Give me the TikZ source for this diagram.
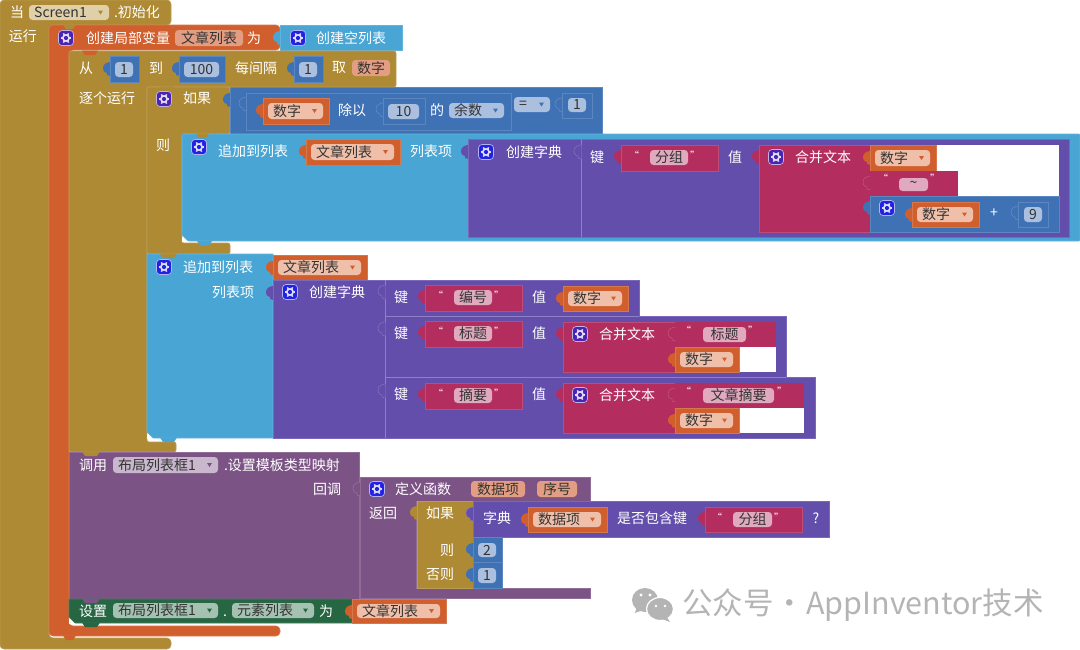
\documentclass[tikz,border=0pt]{standalone}
\usepackage{fontspec}
\setmainfont{Noto Sans CJK SC}
\definecolor{wood}{HTML}{AE8A34}
\definecolor{rust}{HTML}{D05F2D}
\definecolor{sky}{HTML}{49A6D4}
\definecolor{mathblue}{HTML}{3F71B5}
\definecolor{dict}{HTML}{634FAB}
\definecolor{txtred}{HTML}{B32D5E}
\definecolor{mauve}{HTML}{7C5385}
\definecolor{leaf}{HTML}{266643}
\definecolor{woodpill}{HTML}{DFD0A9}
\definecolor{rustpill}{HTML}{EFBFA9}
\definecolor{rustdark}{HTML}{E39D82}
\definecolor{mathpill}{HTML}{ABBFDE}
\definecolor{txtpill}{HTML}{E0A9BE}
\definecolor{mauvepill}{HTML}{C9B7CD}
\definecolor{leafpill}{HTML}{A4C1B1}
\definecolor{wmgray}{HTML}{B4B4B4}
\definecolor{gearblue}{HTML}{2222E2}
\definecolor{gearviolet}{HTML}{4A24B4}
\tikzset{
  blk/.style={draw=#1!85!white, fill=#1, line width=.6pt},
  lab/.style={text=white, inner sep=0pt, font=\fontsize{14}{14}\selectfont},
  fld/.style={text=black!80, inner sep=0pt, font=\fontsize{14}{14}\selectfont},
  quo/.style={text=white, inner sep=0pt, font=\fontsize{10}{10}\selectfont}
}
% puzzle tab sticking out to the left of an edge
\newcommand{\tabl}[3]{\fill[#1] (#2+.6,#3-7) .. controls (#2-3,#3-7) and (#2-7,#3-5) .. (#2-7,#3-1) .. controls (#2-7,#3+3) and (#2-4,#3+4) .. (#2-3,#3+4) -- (#2-3,#3+6) -- (#2+.6,#3+7) -- cycle;}
\newcommand{\sock}[3]{\filldraw[fill=#1, draw=#1!80!white, line width=.5pt] (#2+.6,#3-7) .. controls (#2-3,#3-7) and (#2-7,#3-5) .. (#2-7,#3-1) .. controls (#2-7,#3+3) and (#2-4,#3+4) .. (#2-3,#3+4) -- (#2-3,#3+6) -- (#2+.6,#3+7);}
% notch hanging under a statement
\newcommand{\notch}[4]{\fill[#1] (#2,#4-.5) -- (#2+3,#4+4) -- (#3-3,#4+4) -- (#3,#4-.5) -- cycle;}
% settings button
\newcommand{\gear}[3]{
  \filldraw[fill=#1, draw=white!65!#1, line width=.7pt, rounded corners=3.5pt] (#2-7.5,#3-7.5) rectangle (#2+7.5,#3+7.5);
  \foreach \a in {0,60,...,300} {\draw[white!85!#1, line width=1.5pt] (#2,#3) ++(\a:3) -- ++(\a:2.3);}
  \fill[white!85!#1] (#2,#3) circle (4);
  \fill[#1] (#2,#3) circle (2.1);
}
\newcommand{\pill}[7]{
  \fill[#1, rounded corners=3.5pt] (#3,#4) rectangle (#5,#6);
  \node[fld] (#2) at ({(#3+#5)/2},{(#4+#6)/2}) {#7};
}
\newcommand{\dpill}[8]{
  \fill[#1, rounded corners=3.5pt] (#3,#4) rectangle (#5,#6);
  \node[fld, anchor=west] (#2) at (#3+5,{(#4+#6)/2}) {#7};
  \fill[#8] (#5-11,{(#4+#6)/2-2}) -- (#5-6,{(#4+#6)/2-2}) -- (#5-8.5,{(#4+#6)/2+2}) -- cycle;
}
% variable getter, number and text blocks
\newcommand{\getvar}[6]{
  \tabl{rust}{#2}{#3+13}
  \filldraw[blk=rust] (#2,#3) rectangle (#4,#5);
  \dpill{rustpill}{#1}{#2+5}{#3+5}{#4-6}{#5-5}{#6}{rust}
}
\newcommand{\numblk}[6]{
  \tabl{mathblue}{#2}{#3+13}
  \filldraw[blk=mathblue] (#2,#3) rectangle (#4,#5);
  \pill{mathpill}{#1}{#2+5}{#3+6}{#4-6}{#5-5}{#6}
}
\newcommand{\txtblk}[8]{
  \tabl{txtred}{#2}{#3+12}
  \filldraw[blk=txtred] (#2,#3) rectangle (#4,#5);
  \pill{txtpill}{#1}{#6}{#3+5}{#7}{#3+20}{#8}
  \node[quo] (#1-a) at (#6-16,#3+10) {“};
  \node[quo] (#1-b) at (#7+7,#3+10) {”};
}
\begin{document}
\begin{tikzpicture}[x=1pt,y=-1pt]
  \useasboundingbox (0,0) rectangle (1080,649);

  % Outer event
  \filldraw[blk=wood, rounded corners=4pt] (0,0) -- (171,0) -- (171,25) -- (49,25) -- (49,638) -- (171,638) -- (171,649) -- (0,649) -- cycle;
  \node[lab] (when) at (17,12) {当};
  \dpill{woodpill}{screen}{29}{5}{109}{20}{Screen1}{wood}
  \node[lab] (init) at (137,12) {.初始化};
  \node[lab] (run) at (23,36) {运行};

  % Local variable
  \filldraw[blk=rust, rounded corners=4pt] (49,25) -- (280,25) -- (280,50) -- (69,50) -- (69,626) -- (280,626) -- (280,636) -- (49,636) -- cycle;
  \notch{wood}{63}{76}{25}
  \gear{gearviolet}{66}{38}
  \node[lab] (local) at (128,38) {创建局部变量};
  \pill{rustdark}{localname}{175}{30}{243}{46}{文章列表}
  \node[lab] (localfor) at (254,38) {为};
  \tabl{sky}{280}{38}
  \filldraw[blk=sky] (280,25) rectangle (402,50);
  \gear{gearblue}{298}{38}
  \node[lab] (emptylist) at (351,38) {创建空列表};

  % Loop
  \filldraw[blk=wood, rounded corners=2pt] (69,51) -- (396,51) -- (396,87) -- (147,87) -- (147,442) -- (176,442) -- (176,452) -- (69,452) -- cycle;
  \notch{rust}{82}{98}{51}
  \node[lab] (from) at (86,68) {从};
  \numblk{fromnum}{110}{56}{139}{82}{1}
  \node[lab] (to) at (156,68) {到};
  \numblk{tonum}{179}{56}{225}{82}{100}
  \node[lab] (every) at (256,68) {每间隔};
  \numblk{stepnum}{294}{56}{323}{82}{1}
  \node[lab] (take) at (339,68) {取};
  \pill{rustdark}{loopname}{352}{60}{390}{76}{数字}
  \node[lab] (body) at (107,98) {逐个运行};

  % If
  \filldraw[blk=wood, rounded corners=2pt] (147,87) -- (230,87) -- (230,134) -- (182,134) -- (182,243) -- (230,243) -- (230,254) -- (147,254) -- cycle;
  \notch{wood}{160}{174}{87}
  \gear{gearviolet}{164}{99}
  \node[lab] (ifword) at (197,98) {如果};
  \node[lab] (thenword) at (163,145) {则};
  \tabl{mathblue}{230}{100}
  \filldraw[blk=mathblue] (230,87) rectangle (602,134);
  \sock{mathblue}{246}{104}
  \filldraw[blk=mathblue] (246,93) rectangle (511,130);
  \getvar{numvar}{263}{98}{329}{124}{数字}
  \node[lab] (divide) at (352,110) {除以};
  \sock{mathblue}{383}{110}
  \filldraw[blk=mathblue] (383,98) rectangle (425,124);
  \pill{mathpill}{ten}{388}{104}{419}{119}{10}
  \node[lab] (of) at (437,110) {的};
  \dpill{mathpill}{remainder}{449}{103}{504}{118}{余数}{mathblue}
  \dpill{mathpill}{equal}{514}{97}{550}{112}{=}{mathblue}
  \sock{mathblue}{562}{105}
  \filldraw[blk=mathblue] (562,93) rectangle (592,118);
  \pill{mathpill}{one}{568}{98}{586}{112}{1}

  % First append
  \filldraw[blk=sky, rounded corners=1pt] (182,134) -- (1080,134) -- (1080,241) -- (188,241) -- (182,235) -- cycle;
  \fill[white] (182,236) -- (182,242) -- (189,242) .. controls (185,241) and (183,240) .. cycle;
  \notch{wood}{196}{209}{134}
  \notch{sky}{197}{212}{241.5}
  \gear{gearblue}{199}{147}
  \node[lab] (append) at (253,151) {追加到列表};
  \getvar{listvar}{306}{139}{400}{165}{文章列表}
  \node[lab] (item) at (431,151) {列表项};
  \tabl{dict}{468}{152}
  \filldraw[blk=dict] (468,139) rectangle (1069,237);
  \draw[dict!72!white, line width=.6pt] (581,139) -- (581,237);
  \gear{gearblue}{486}{152}
  \node[lab] (makedict) at (534,152) {创建字典};
  \sock{dict}{581}{152}
  \node[lab] (key) at (597,157) {键};
  \txtblk{groupkey}{621}{145}{718}{171}{650}{688}{分组}
  \node[lab] (val) at (735,157) {值};
  \fill[white] (935,145) rectangle (1059,196);
  \tabl{txtred}{759}{157}
  \filldraw[blk=txtred] (759,145) rectangle (870,232);
  \gear{gearviolet}{776}{157}
  \node[lab] (join) at (823,157) {合并文本};
  \getvar{numa}{870}{145}{936}{171}{数字}
  \fill[txtred] (870,171) rectangle (958,196);
  \sock{txtred}{870}{183}
  \pill{txtpill}{tilde}{899}{178}{928}{191}{\~{}}
  \node[quo] (tilde-a) at (883,178) {“};
  \node[quo] (tilde-b) at (935,178) {”};
  \tabl{mathblue}{870}{208}
  \filldraw[blk=mathblue] (870,196) rectangle (1059,232);
  \gear{gearblue}{887}{208}
  \getvar{numb}{912}{202}{979}{227}{数字}
  \node[lab] (plus) at (994,213) {+};
  \sock{mathblue}{1018}{213}
  \filldraw[blk=mathblue] (1018,202) rectangle (1048,227);
  \pill{mathpill}{nine}{1024}{207}{1042}{222}{9}

  % Second append
  \filldraw[blk=sky] (147,254) -- (273,254) -- (273,438) -- (153,438) -- (147,432) -- cycle;
  \fill[white] (147,433) -- (147,439) -- (154,439) .. controls (150,438) and (148,437) .. cycle;
  \notch{wood}{160}{177}{254}
  \notch{sky}{160}{177}{438}
  \gear{gearblue}{164}{267}
  \node[lab] (appendb) at (218,267) {追加到列表};
  \getvar{listvarb}{273}{255}{367}{280}{文章列表}
  \node[lab] (itemb) at (233,292) {列表项};
  \tabl{dict}{273}{293}
  \filldraw[blk=dict] (273,280) -- (639,280) -- (639,316) -- (786,316) -- (786,377) -- (815,377) -- (815,438) -- (273,438) -- cycle;
  \draw[dict!72!white, line width=.6pt] (385,280) -- (385,438) (385,316) -- (639,316) (385,377) -- (786,377);
  \gear{gearblue}{290}{292}
  \node[lab] (makedictb) at (337,292) {创建字典};

  % Rows of the dictionary
  \sock{dict}{385}{292}
  \node[lab] (keya) at (401,297) {键};
  \txtblk{numkey}{425}{285}{522}{311}{454}{492}{编号}
  \node[lab] (vala) at (539,297) {值};
  \getvar{numc}{563}{286}{628}{311}{数字}

  \sock{dict}{385}{329}
  \node[lab] (keyb) at (401,333) {键};
  \txtblk{titlekey}{425}{321}{522}{347}{454}{492}{标题}
  \node[lab] (valb) at (539,333) {值};
  \tabl{txtred}{563}{334}
  \filldraw[blk=txtred] (563,322) rectangle (675,372);
  \gear{gearviolet}{580}{334}
  \node[lab] (joinb) at (627,334) {合并文本};
  \fill[white] (739,347) rectangle (776,372);
  \fill[txtred] (675,322) rectangle (776,347);
  \sock{txtred}{675}{334}
  \pill{txtpill}{titleval}{703}{327}{746}{342}{标题}
  \node[quo] (titleval-a) at (686,330) {“};
  \node[quo] (titleval-b) at (753,330) {”};
  \getvar{numd}{675}{347}{739}{372}{数字}

  \sock{dict}{385}{391}
  \node[lab] (keyc) at (401,394) {键};
  \txtblk{sumkey}{425}{383}{522}{409}{454}{492}{摘要}
  \node[lab] (valc) at (539,394) {值};
  \tabl{txtred}{563}{395}
  \filldraw[blk=txtred] (563,383) rectangle (675,433);
  \gear{gearviolet}{580}{395}
  \node[lab] (joinc) at (627,395) {合并文本};
  \fill[white] (739,408) rectangle (804,433);
  \fill[txtred] (675,383) rectangle (804,408);
  \sock{txtred}{675}{395}
  \pill{txtpill}{sumval}{703}{388}{774}{403}{文章摘要}
  \node[quo] (sumval-a) at (686,391) {“};
  \node[quo] (sumval-b) at (782,391) {”};
  \getvar{nume}{675}{408}{739}{433}{数字}

  % Template call
  \filldraw[blk=mauve] (69,452) -- (359,452) -- (359,599) -- (69,599) -- cycle;
  \notch{wood}{82}{100}{452}
  \node[lab] (call) at (93,465) {调用};
  \dpill{mauvepill}{listbox}{113}{457}{218}{473}{布局列表框1}{mauve}
  \node[lab] (setmap) at (282,465) {.设置模板类型映射};
  \node[lab] (callback) at (327,489) {回调};
  \sock{mauve}{360}{489}
  \filldraw[blk=mauve] (360,477) -- (590,477) -- (590,501) -- (416,501) -- (416,588) -- (590,588) -- (590,598) -- (360,598) -- cycle;
  \gear{gearblue}{377}{489}
  \node[lab] (deffn) at (423,489) {定义函数};
  \pill{rustdark}{itemname}{471}{481}{525}{497}{数据项}
  \pill{rustdark}{indexname}{537}{481}{577}{497}{序号}
  \node[lab] (ret) at (383,513) {返回};

  % Inline if
  \tabl{wood}{417}{513}
  \filldraw[blk=wood] (417,501) rectangle (473,588);
  \node[lab] (ifb) at (440,513) {如果};
  \node[lab] (thenb) at (447,550) {则};
  \node[lab] (elseb) at (440,574) {否则};
  \sock{dict}{473}{514}
  \filldraw[blk=dict] (473,501) rectangle (829,537);
  \node[lab] (dictword) at (497,518) {字典};
  \getvar{itemvar}{528}{507}{607}{532}{数据项}
  \node[lab] (haskey) at (652,518) {是否包含键};
  \txtblk{groupkeyb}{705}{507}{802}{532}{733}{772}{分组}
  \node[lab] (ask) at (816,518) {?};
  \numblk{two}{473}{537}{502}{562}{2}
  \numblk{oneb}{473}{562}{502}{588}{1}

  % Set elements
  \filldraw[blk=leaf] (69,599) -- (352,599) -- (352,623) -- (75,623) -- (69,617) -- cycle;
  \fill[white] (69,618) -- (69,624) -- (76,624) .. controls (72,623) and (70,622) .. cycle;
  \notch{mauve}{82}{100}{599}
  \notch{leaf}{82}{100}{623}
  \notch{rust}{63}{76}{636}
  \node[lab] (setword) at (93,611) {设置};
  \dpill{leafpill}{listboxb}{113}{603}{218}{618}{布局列表框1}{leaf}
  \node[lab, anchor=base] (dot) at (225,616) {.};
  \dpill{leafpill}{elements}{232}{603}{314}{618}{元素列表}{leaf}
  \node[lab] (towards) at (326,611) {为};
  \getvar{listvarc}{352}{599}{446}{623}{文章列表}

  % Watermark
  \fill[wmgray] (645,600) ellipse (13 and 12);
  \fill[wmgray] (637,606) -- (635,613) -- (643,610) -- cycle;
  \draw[white, fill=wmgray, line width=1.2pt] (660,609) ellipse (13.5 and 11.5);
  \fill[wmgray] (667,617) -- (670,622) -- (662,619) -- cycle;
  \fill[white] (641,595) circle (1.7) (650,595) circle (1.7) (656,606) circle (1.4) (665,606) circle (1.4);
  \node[inner sep=0pt, anchor=west, text=wmgray, font=\fontsize{30.5}{30.5}\selectfont] (brand) at (682,605) {公众号\hspace{1pt}·\hspace{1pt}AppInventor技术};
\end{tikzpicture}
\end{document}
